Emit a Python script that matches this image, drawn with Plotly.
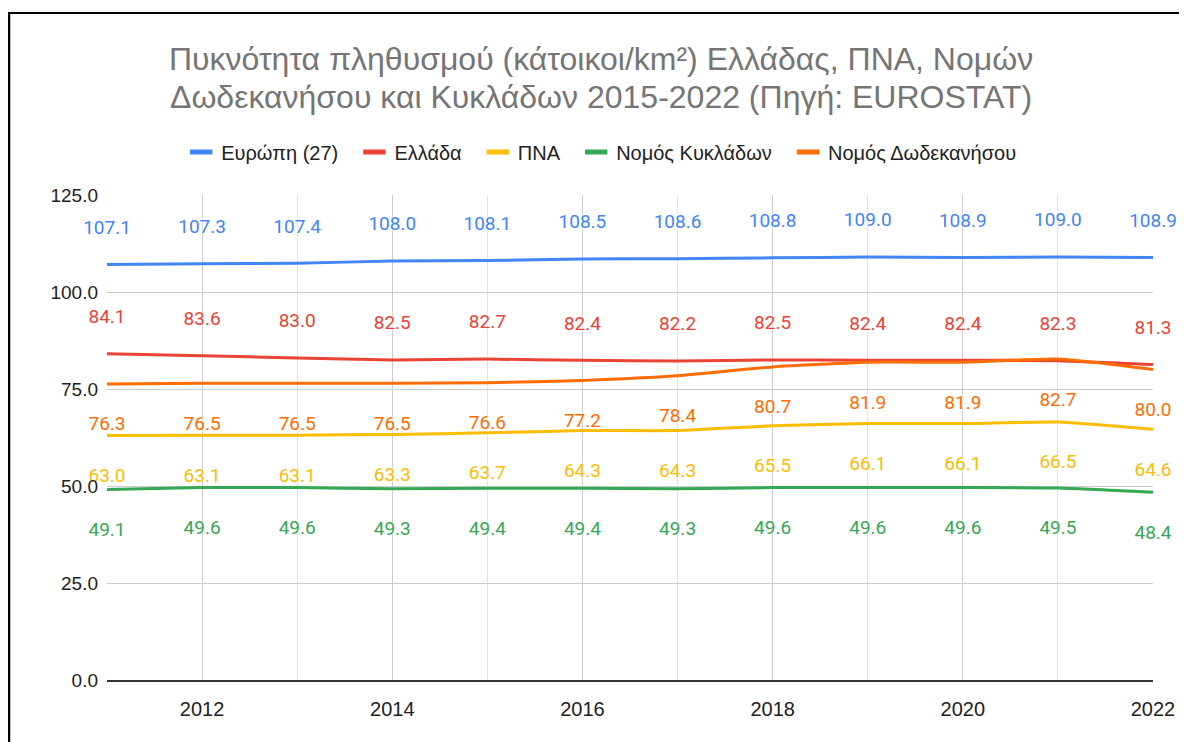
import plotly.graph_objects as go

years = [2011, 2012, 2013, 2014, 2015, 2016, 2017, 2018, 2019, 2020, 2021, 2022]

europe = [107.1, 107.3, 107.4, 108.0, 108.1, 108.5, 108.6, 108.8, 109.0, 108.9, 109.0, 108.9]
greece = [84.1, 83.6, 83.0, 82.5, 82.7, 82.4, 82.2, 82.5, 82.4, 82.4, 82.3, 81.3]
pna = [63.0, 63.1, 63.1, 63.3, 63.7, 64.3, 64.3, 65.5, 66.1, 66.1, 66.5, 64.6]
cyclades = [49.1, 49.6, 49.6, 49.3, 49.4, 49.4, 49.3, 49.6, 49.6, 49.6, 49.5, 48.4]
dodecanese = [76.3, 76.5, 76.5, 76.5, 76.6, 77.2, 78.4, 80.7, 81.9, 81.9, 82.7, 80.0]

series_names = ["Ευρώπη (27)", "Ελλάδα", "ΠΝΑ", "Νομός Κυκλάδων", "Νομός Δωδεκανήσου"]
series_values = [europe, greece, pna, cyclades, dodecanese]
series_colors = ["#4285F4", "#EA4335", "#FBBC04", "#34A853", "#FF6D01"]
label_positions = ["top center", "top center", "bottom center", "bottom center", "bottom center"]
label_offsets = [40, 40, 50, 50, 50]  # invisible marker size used to push labels away

title_line1 = "Πυκνότητα πληθυσμού (κάτοικοι/km²) Ελλάδας, ΠΝΑ, Νομών"
title_line2 = "Δωδεκανήσου και Κυκλάδων 2015-2022 (Πηγή: EUROSTAT)"

# the page body has an 8px margin: figure coords = window coords - 8
FW, FH = 1179, 734
L, R, T, B = 99, 26, 187, 62
W, H = FW - L - R, FH - T - B


def wx(px):  # window x -> paper x
    return (px - 8 - L) / W


def wy(py):  # window y -> paper y
    return (FH - B - (py - 8)) / H


fig = go.Figure()

for name, vals, col in zip(series_names, series_values, series_colors):
    fig.add_trace(go.Scatter(
        x=years, y=vals, mode="lines", name=name,
        line=dict(color=col, width=3, shape="spline", smoothing=0.5),
        showlegend=False, hoverinfo="skip",
    ))

n_series = len(series_names)
for i, (name, col) in enumerate(zip(series_names, series_colors)):
    pad = "\u00a0\u00a0" if i < n_series - 1 else ""
    fig.add_trace(go.Scatter(
        x=[None], y=[None], mode="markers", name=name + pad,
        marker=dict(symbol="line-ew", size=16, color=col,
                    line=dict(color=col, width=5)),
        showlegend=True,
    ))

halo = "0px 0px 2px white, 0px 0px 3px white, 0px 0px 4px white"
for name, vals, col, pos, off in zip(series_names, series_values, series_colors,
                                     label_positions, label_offsets):
    fig.add_trace(go.Scatter(
        x=years, y=vals, mode="markers+text",
        text=[f"{v:.1f}" for v in vals], textposition=pos,
        textfont=dict(family="Roboto", size=19, color=col, shadow=halo),
        marker=dict(size=off, opacity=0, color=col),
        cliponaxis=False, showlegend=False, hoverinfo="skip",
    ))

# frame lines of the screenshot
fig.add_shape(type="line", xref="paper", yref="paper",
              x0=wx(7), x1=wx(1200), y0=wy(13), y1=wy(13),
              line=dict(color="#000000", width=2))
fig.add_shape(type="line", xref="paper", yref="paper",
              x0=wx(8), x1=wx(8), y0=wy(13), y1=wy(760),
              line=dict(color="#000000", width=3))

title_font = dict(family="Liberation Sans, Arial", size=32, color="#757575")
fig.add_annotation(text=title_line1, xref="paper", yref="paper",
                   x=wx(605), y=wy(59), xanchor="center", yanchor="middle",
                   showarrow=False, font=title_font)
fig.add_annotation(text=title_line2, xref="paper", yref="paper",
                   x=wx(605), y=wy(97), xanchor="center", yanchor="middle",
                   showarrow=False, font=title_font)

tick_font = dict(family="Liberation Sans, Arial", size=19, color="#222222")

fig.update_layout(
    width=FW, height=FH,
    margin=dict(l=L, r=R, t=T, b=B),
    paper_bgcolor="white", plot_bgcolor="white",
    legend=dict(orientation="h", x=wx(605), xanchor="center",
                y=wy(152), yanchor="middle",
                font=dict(family="Liberation Sans, Arial", size=20, color="#222222"),
                itemwidth=30, bgcolor="rgba(0,0,0,0)"),
    xaxis=dict(range=[2011, 2022], tick0=2012, dtick=2, showgrid=True,
               gridcolor="#cccccc", gridwidth=1,
               minor=dict(tick0=2011, dtick=1, showgrid=True, gridcolor="#e3e3e3"),
               showline=True, linecolor="#333333", linewidth=1.5,
               zeroline=False, ticks="", ticklabelstandoff=10,
               tickfont=dict(family="Liberation Sans, Arial", size=20, color="#222222")),
    yaxis=dict(range=[0, 125], dtick=25, tickformat=".1f", showgrid=True,
               gridcolor="#cccccc", zeroline=False, ticks="",
               ticklabelstandoff=8, tickfont=tick_font),
    hovermode=False,
)

fig.write_html("out.html")
